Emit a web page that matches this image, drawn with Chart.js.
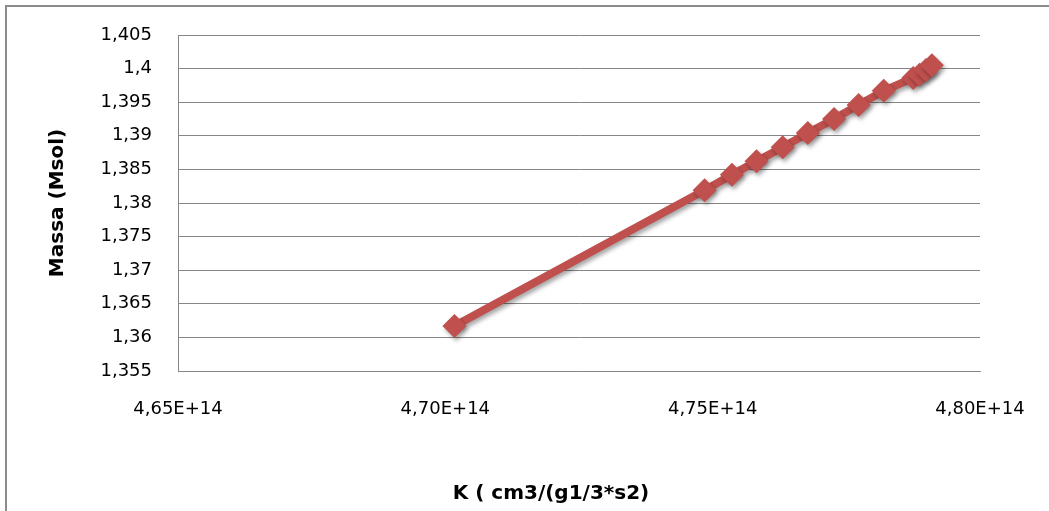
<!DOCTYPE html>
<html>
<head>
<meta charset="utf-8">
<script src="https://cdn.jsdelivr.net/npm/chart.js@4/dist/chart.umd.min.js"></script>
<style>
  html, body { margin: 0; padding: 0; background: #fff; }
  #wrap { width: 1049px; height: 511px; position: relative; }
</style>
</head>
<body>
<div id="wrap"><canvas id="c" width="1049" height="511"></canvas></div>
<script>
// ---- data ----
const kValues    = [4.7017e14, 4.7485e14, 4.7536e14, 4.7582e14, 4.7631e14, 4.7678e14, 4.7727e14, 4.7773e14, 4.7820e14, 4.7875e14, 4.7887e14, 4.7899e14, 4.7910e14];
const massValues = [1.3617, 1.3819, 1.3842, 1.3862, 1.3883, 1.3904, 1.3925, 1.3946, 1.3967, 1.3986, 1.3991, 1.3998, 1.4005];
const xTickValues = [4.65e14, 4.70e14, 4.75e14, 4.80e14];
const xTickLabels = ["4,65E+14", "4,70E+14", "4,75E+14", "4,80E+14"];
const yTickValues = [1.355, 1.36, 1.365, 1.37, 1.375, 1.38, 1.385, 1.39, 1.395, 1.4, 1.405];
const yTickLabels = ["1,355", "1,36", "1,365", "1,37", "1,375", "1,38", "1,385", "1,39", "1,395", "1,4", "1,405"];
const xTitle = "K ( cm3/(g1/3*s2)";
const yTitle = "Massa (Msol)";

const points = kValues.map((k, i) => ({ x: k, y: massValues[i] }));

const frame = {
  id: 'frame',
  beforeDraw(chart) {
    const ctx = chart.ctx;
    ctx.save();
    ctx.fillStyle = '#fff';
    ctx.fillRect(0, 0, chart.width, chart.height);
    ctx.strokeStyle = '#8c8c8c';
    ctx.lineWidth = 2;
    ctx.beginPath();
    ctx.moveTo(6, 511);
    ctx.lineTo(6, 6);
    ctx.lineTo(1049, 6);
    ctx.stroke();
    ctx.restore();
  },
  afterDraw(chart) {
    const ctx = chart.ctx;
    ctx.save();
    ctx.font = 'bold 20px "DejaVu Sans"';
    ctx.fillStyle = '#000';
    ctx.textAlign = 'center';
    ctx.textBaseline = 'middle';
    ctx.fillText(xTitle, 551, 494);
    ctx.restore();
  }
};

const shadow = {
  id: 'shadow',
  beforeDatasetsDraw(chart) {
    const ctx = chart.ctx;
    ctx.save();
    ctx.shadowColor = 'rgba(0,0,0,0.35)';
    ctx.shadowBlur = 4;
    ctx.shadowOffsetX = 2;
    ctx.shadowOffsetY = 3;
  },
  afterDatasetsDraw(chart) {
    chart.ctx.restore();
  }
};

new Chart(document.getElementById('c'), {
  type: 'scatter',
  data: {
    datasets: [{
      data: points,
      showLine: true,
      borderColor: '#C0504D',
      borderWidth: 8,
      backgroundColor: '#C0504D',
      pointStyle: 'rectRot',
      pointRadius: 12,
      pointBorderWidth: 0,
      pointBackgroundColor: '#C0504D',
      tension: 0
    }]
  },
  options: {
    responsive: false,
    animation: false,
    layout: { autoPadding: false, padding: { left: 0, top: 35, right: 69, bottom: 0 } },
    plugins: { legend: { display: false }, tooltip: { enabled: false } },
    scales: {
      x: {
        type: 'linear',
        min: xTickValues[0],
        max: xTickValues[xTickValues.length - 1],
        afterBuildTicks(scale) { scale.ticks = xTickValues.map(v => ({ value: v })); },
        afterFit(scale) { scale.height = 140; scale.paddingLeft = 0; scale.paddingRight = 0; },
        grid: { display: false, drawTicks: false },
        border: { display: true, color: '#868686', width: 1 },
        ticks: {
          padding: 28,
          color: '#000',
          font: { family: 'DejaVu Sans', size: 18 },
          maxRotation: 0,
          callback(v) { const i = xTickValues.indexOf(v); return i >= 0 ? xTickLabels[i] : ''; }
        }
      },
      y: {
        type: 'linear',
        min: yTickValues[0],
        max: yTickValues[yTickValues.length - 1],
        afterBuildTicks(scale) { scale.ticks = yTickValues.map(v => ({ value: v })); },
        afterFit(scale) { scale.width = 178; scale.paddingTop = 0; scale.paddingBottom = 0; },
        grid: { display: true, drawTicks: false, color: '#868686', lineWidth: 1 },
        border: { display: true, color: '#868686', width: 1 },
        title: {
          display: true,
          text: yTitle,
          color: '#000',
          font: { family: 'DejaVu Sans', size: 20, weight: 'bold' },
          padding: { top: 46, bottom: 0 }
        },
        ticks: {
          padding: 26,
          color: '#000',
          font: { family: 'DejaVu Sans', size: 18 },
          callback(v) { const i = yTickValues.indexOf(v); return i >= 0 ? yTickLabels[i] : ''; }
        }
      }
    }
  },
  plugins: [frame, shadow]
});
</script>
</body>
</html>
